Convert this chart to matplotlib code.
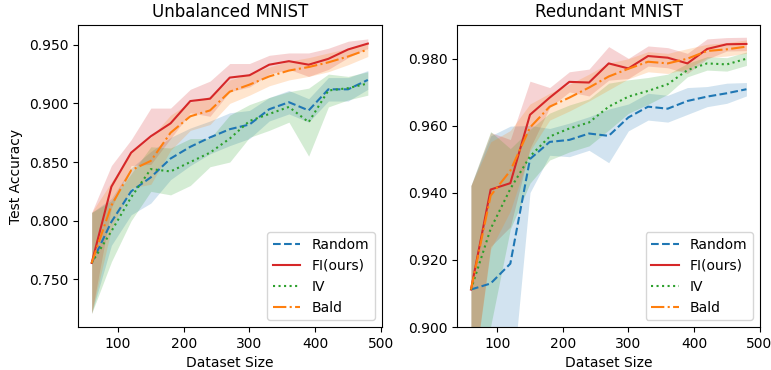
import numpy as np
from matplotlib import pyplot as plt
from matplotlib.ticker import FormatStrFormatter

sizes = [60, 90, 120, 150, 180, 210, 240, 270, 300, 330, 360, 390, 420, 450, 480]

# Unbalanced MNIST
unb_random = [0.764, 0.799, 0.825, 0.837, 0.853, 0.863, 0.871, 0.878, 0.882, 0.895, 0.901, 0.894, 0.912, 0.912, 0.920]
unb_random_sd = [0.043, 0.020, 0.020, 0.022, 0.018, 0.016, 0.014, 0.014, 0.012, 0.010, 0.010, 0.010, 0.010, 0.010, 0.008]
unb_fi = [0.764, 0.829, 0.858, 0.872, 0.883, 0.902, 0.904, 0.922, 0.924, 0.933, 0.936, 0.933, 0.938, 0.946, 0.951]
unb_fi_sd = [0.043, 0.018, 0.011, 0.024, 0.013, 0.010, 0.015, 0.012, 0.010, 0.008, 0.007, 0.010, 0.009, 0.007, 0.004]
unb_iv = [0.764, 0.791, 0.820, 0.844, 0.842, 0.850, 0.858, 0.870, 0.885, 0.891, 0.897, 0.884, 0.911, 0.913, 0.917]
unb_iv_sd = [0.043, 0.026, 0.020, 0.019, 0.020, 0.020, 0.012, 0.020, 0.014, 0.014, 0.013, 0.029, 0.014, 0.010, 0.010]
unb_bald = [0.764, 0.813, 0.843, 0.851, 0.875, 0.889, 0.894, 0.910, 0.916, 0.923, 0.928, 0.931, 0.935, 0.940, 0.946]
unb_bald_sd = [0.043, 0.020, 0.015, 0.020, 0.015, 0.012, 0.012, 0.010, 0.009, 0.008, 0.008, 0.008, 0.008, 0.007, 0.006]

# Redundant MNIST
red_random = [0.9112, 0.9130, 0.9189, 0.9501, 0.9552, 0.9558, 0.9577, 0.9570, 0.9625, 0.9657, 0.9651, 0.9674, 0.9687, 0.9697, 0.9709]
red_random_sd = [0.031, 0.044, 0.041, 0.010, 0.004, 0.005, 0.005, 0.008, 0.004, 0.004, 0.004, 0.004, 0.003, 0.003, 0.002]
red_fi = [0.9112, 0.9410, 0.9429, 0.9633, 0.9684, 0.9731, 0.9729, 0.9786, 0.9771, 0.9808, 0.9803, 0.9786, 0.9829, 0.9843, 0.9844]
red_fi_sd = [0.031, 0.017, 0.013, 0.010, 0.003, 0.003, 0.004, 0.005, 0.003, 0.003, 0.003, 0.003, 0.003, 0.002, 0.002]
red_iv = [0.9112, 0.9293, 0.9412, 0.9509, 0.9568, 0.9592, 0.9610, 0.9657, 0.9687, 0.9704, 0.9724, 0.9766, 0.9786, 0.9783, 0.9800]
red_iv_sd = [0.031, 0.029, 0.012, 0.008, 0.007, 0.007, 0.007, 0.007, 0.005, 0.004, 0.003, 0.002, 0.002, 0.002, 0.002]
red_bald = [0.9112, 0.9392, 0.9466, 0.9595, 0.9657, 0.9684, 0.9714, 0.9747, 0.9770, 0.9791, 0.9786, 0.9800, 0.9823, 0.9828, 0.9836]
red_bald_sd = [0.031, 0.016, 0.012, 0.007, 0.004, 0.004, 0.004, 0.004, 0.003, 0.003, 0.003, 0.003, 0.002, 0.002, 0.002]

labels = ['Random', 'FI(ours)', 'IV', 'Bald']
colors = ['tab:blue', 'tab:red', 'tab:green', 'tab:orange']
styles = ['--', '-', ':', '-.']

panels = [
    ('Unbalanced MNIST', [unb_random, unb_fi, unb_iv, unb_bald],
     [unb_random_sd, unb_fi_sd, unb_iv_sd, unb_bald_sd]),
    ('Redundant MNIST', [red_random, red_fi, red_iv, red_bald],
     [red_random_sd, red_fi_sd, red_iv_sd, red_bald_sd]),
]

fig = plt.figure(figsize=(7.71, 3.7), dpi=100)
ax1 = fig.add_axes([0.101, 0.116, 0.394, 0.816])
ax2 = fig.add_axes([0.593, 0.116, 0.393, 0.816])

x = np.array(sizes)
for ax, (title, means, sds) in zip([ax1, ax2], panels):
    for m, s, lab, c, ls in zip(means, sds, labels, colors, styles):
        m = np.array(m)
        s = np.array(s)
        ax.plot(x, m, ls, color=c, label=lab)
        ax.fill_between(x, m - s, m + s, color=c, alpha=0.2, linewidth=0)
    ax.set_title(title, fontsize=12)
    ax.set_xlabel('Dataset Size')
    ax.set_xticks([100, 200, 300, 400, 500])
    ax.yaxis.set_major_formatter(FormatStrFormatter('%.3f'))
    ax.legend(loc='lower right')

ax1.set_ylabel('Test Accuracy')
ax1.set_yticks([0.75, 0.80, 0.85, 0.90, 0.95])
ax2.set_ylim(0.900, 0.990)
ax2.set_yticks([0.90, 0.92, 0.94, 0.96, 0.98])

plt.savefig('out.png', dpi=100)
